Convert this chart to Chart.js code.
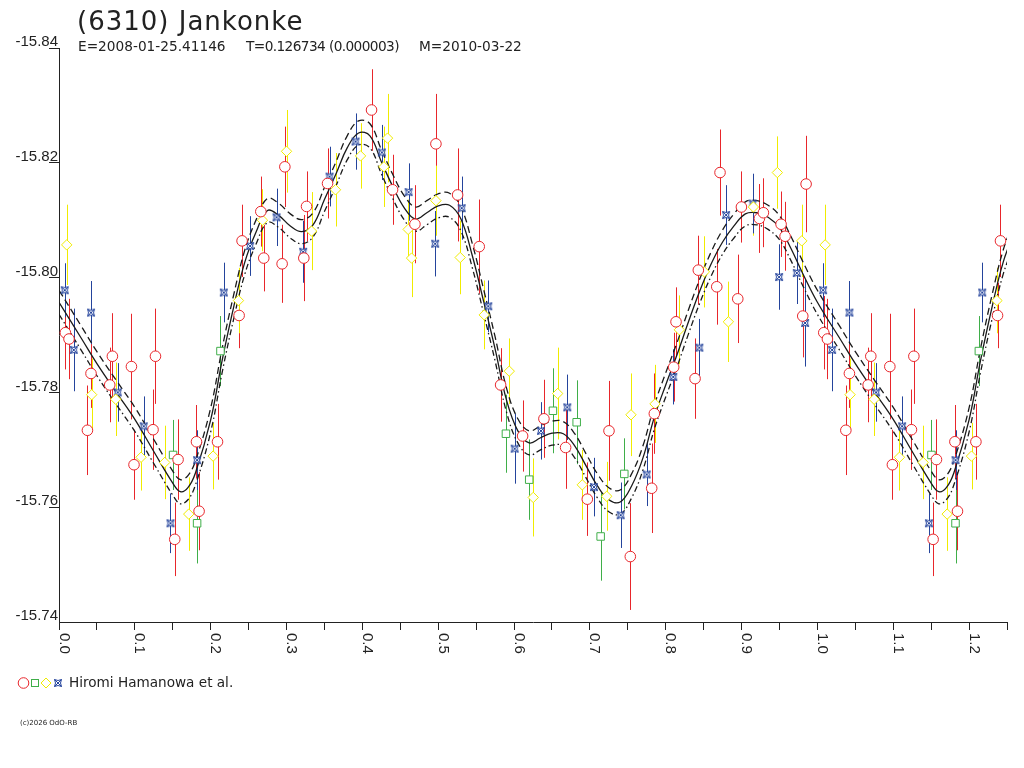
<!DOCTYPE html>
<html>
<head>
<meta charset="utf-8">
<title>(6310) Jankonke</title>
<script src="https://cdn.jsdelivr.net/npm/chart.js@4.4.1/dist/chart.umd.min.js"></script>
<style>
  body { margin: 0; background: #fff; }
  #wrap { position: relative; width: 1024px; height: 768px; overflow: hidden; }
  #chart { position: absolute; left: 0; top: 0; }
  .txt { position: absolute; white-space: pre; color: #222; font-family: "DejaVu Sans", sans-serif; }
</style>
</head>
<body>
<div id="wrap">
  <canvas id="chart" width="1024" height="768"></canvas>
  <div class="txt" style="left:77px; top:8px; font-size:26px; line-height:26px; letter-spacing:1px;">(6310) Jankonke</div>
  <div class="txt" style="left:78px; top:40px; font-size:13.7px; line-height:13.7px;">E=2008-01-25.41146</div>
  <div class="txt" style="left:246px; top:40px; font-size:13.7px; line-height:13.7px; letter-spacing:-0.6px;">T=0.126734 (0.000003)</div>
  <div class="txt" style="left:419px; top:40px; font-size:13.7px; line-height:13.7px;">M=2010-03-22</div>
  <svg style="position:absolute; left:16px; top:676px;" width="50" height="14" viewBox="0 0 50 14">
    <circle cx="7.5" cy="7" r="5.3" fill="#fff" stroke="#e8262b" stroke-width="1"/>
    <rect x="15.5" y="3.5" width="7" height="7" fill="#fff" stroke="#3fae49" stroke-width="1"/>
    <polygon points="30,2 35,7 30,12 25,7" fill="#fff" stroke="#f0ec00" stroke-width="1"/>
    <path d="M38.5 3.5 Q42 5.5 45.5 3.5 Q43.5 7 45.5 10.5 Q42 8.5 38.5 10.5 Q40.5 7 38.5 3.5 Z M38.5 3.5 L45.5 10.5 M45.5 3.5 L38.5 10.5" fill="#fff" stroke="#24449c" stroke-width="1"/>
  </svg>
  <div class="txt" style="left:69px; top:676px; font-size:13.6px; line-height:13.6px;">Hiromi Hamanowa et al.</div>
  <div class="txt" style="left:20px; top:720px; font-size:7px; line-height:7px;">(c)2026 OdO-RB</div>
</div>
<script>
document.addEventListener("DOMContentLoaded", () => {

const axisColor = "#222"
const red = "#e8262b", green = "#3fae49", yellow = "#f0ec00", blue = "#24449c"

// axis ticks
const xTickValues = [0,0.05,0.1,0.15,0.2,0.25,0.3,0.35,0.4,0.45,0.5,0.55,0.6,0.65,0.7,0.75,0.8,0.85,0.9,0.95,1.0,1.05,1.1,1.15,1.2,1.25]
const xTickLabels = ["0.0","0.1","0.2","0.3","0.4","0.5","0.6","0.7","0.8","0.9","1.0","1.1","1.2"]
const yTickValues = [-15.84,-15.82,-15.80,-15.78,-15.76,-15.74]
const xMax = 1.25

const redPhase = [0.0084,0.0132,0.0375,0.0422,0.0669,0.0704,0.0955,0.0989,0.1240,0.1272,0.1526,0.1570,0.1813,0.1847,0.2090,0.2375,0.2414,0.2661,0.2700,0.2942,0.2978,0.3228,0.3264,0.3541,0.4121,0.4398,0.4693,0.4970,0.5256,0.5541,0.5823,0.6113,0.6394,0.6680,0.6966,0.7252,0.7533,0.7815,0.7850,0.8105,0.8136,0.8387,0.8430,0.8673,0.8716,0.8950,0.8998,0.9235,0.9288,0.9521,0.9574,0.9807,0.9851]
const redMag = [-15.7904,-15.7893,-15.7734,-15.7833,-15.7813,-15.7863,-15.7845,-15.7674,-15.7735,-15.7863,-15.7544,-15.7683,-15.7714,-15.7593,-15.7714,-15.7934,-15.8064,-15.8115,-15.8034,-15.8024,-15.8193,-15.8034,-15.8124,-15.8164,-15.8292,-15.8153,-15.8093,-15.8233,-15.8144,-15.8054,-15.7813,-15.7724,-15.7754,-15.7704,-15.7614,-15.7733,-15.7514,-15.7633,-15.7763,-15.7844,-15.7923,-15.7824,-15.8013,-15.7984,-15.8183,-15.7963,-15.8123,-15.8103,-15.8113,-15.8093,-15.8072,-15.7933,-15.8163]
const redErr = [0.0064,0.0070,0.0078,0.0060,0.0065,0.0075,0.0092,0.0061,0.0070,0.0083,0.0064,0.0070,0.0064,0.0068,0.0066,0.0057,0.0063,0.0061,0.0058,0.0068,0.0070,0.0075,0.0061,0.0061,0.0071,0.0061,0.0068,0.0087,0.0081,0.0082,0.0064,0.0062,0.0068,0.0072,0.0064,0.0087,0.0093,0.0078,0.0070,0.0060,0.0060,0.0070,0.0060,0.0066,0.0075,0.0077,0.0062,0.0060,0.0060,0.0057,0.0060,0.0072,0.0084]

const greenPhase = [0.1504,0.1821,0.2129,0.5893,0.6200,0.6513,0.6826,0.7142,0.7454]
const greenMag = [-15.7691,-15.7572,-15.7872,-15.7728,-15.7648,-15.7768,-15.7748,-15.7549,-15.7658]
const greenErr = [0.0061,0.0070,0.0061,0.0068,0.0070,0.0074,0.0073,0.0077,0.0062]

const yellowPhase = [0.0102,0.0431,0.0748,0.1082,0.1394,0.1711,0.2032,0.2367,0.2683,0.3000,0.3330,0.3646,0.3976,0.4284,0.4332,0.4604,0.4649,0.4970,0.5290,0.5607,0.5937,0.6253,0.6575,0.6900,0.7222,0.7542,0.7859,0.8180,0.8510,0.8826,0.9156,0.9472,0.9794]
const yellowMag = [-15.8057,-15.7796,-15.7788,-15.7687,-15.7678,-15.7588,-15.7689,-15.7960,-15.8100,-15.8220,-15.8081,-15.8153,-15.8212,-15.8193,-15.8243,-15.8084,-15.8034,-15.8134,-15.8035,-15.7935,-15.7837,-15.7617,-15.7798,-15.7639,-15.7619,-15.7761,-15.7780,-15.7909,-15.8010,-15.7923,-15.8123,-15.8183,-15.8064]
const yellowErr = [0.0070,0.0063,0.0064,0.0058,0.0064,0.0064,0.0058,0.0057,0.0054,0.0072,0.0068,0.0064,0.0057,0.0070,0.0077,0.0052,0.0068,0.0061,0.0064,0.0060,0.0057,0.0068,0.0080,0.0061,0.0060,0.0072,0.0068,0.0060,0.0062,0.0070,0.0050,0.0063,0.0063]

const bluePhase = [0.0075,0.0194,0.0422,0.0774,0.1117,0.1470,0.1821,0.2173,0.2520,0.2868,0.3219,0.3567,0.3910,0.4257,0.4610,0.4960,0.5309,0.5660,0.6008,0.6355,0.6702,0.7054,0.7406,0.7749,0.8100,0.8443,0.8796,0.9147,0.9495,0.9728,0.9838]
const blueMag = [-15.7978,-15.7874,-15.7939,-15.7800,-15.7741,-15.7572,-15.7682,-15.7974,-15.8055,-15.8105,-15.8045,-15.8176,-15.8237,-15.8218,-15.8149,-15.8059,-15.8121,-15.7950,-15.7702,-15.7733,-15.7774,-15.7635,-15.7586,-15.7657,-15.7827,-15.7878,-15.8109,-15.8129,-15.8001,-15.8008,-15.7921]
const blueErr = [0.0047,0.0072,0.0055,0.0051,0.0052,0.0052,0.0052,0.0052,0.0052,0.0050,0.0054,0.0052,0.0049,0.0048,0.0050,0.0057,0.0055,0.0045,0.0061,0.0050,0.0057,0.0051,0.0057,0.0055,0.0048,0.0050,0.0052,0.0052,0.0057,0.0054,0.0076]

// model curve and its two bounds
const modelPhase = [0,0.03,0.05,0.075,0.1,0.125,0.15,0.16,0.17,0.18,0.2,0.215,0.23,0.245,0.26,0.275,0.29,0.305,0.32,0.335,0.35,0.365,0.38,0.395,0.41,0.425,0.44,0.455,0.47,0.485,0.5,0.515,0.53,0.545,0.56,0.575,0.59,0.605,0.62,0.635,0.65,0.665,0.68,0.695,0.71,0.725,0.74,0.755,0.77,0.785,0.8,0.815,0.83,0.845,0.86,0.875,0.89,0.905,0.92,0.935,0.95,0.965,0.98]
const modelMag = [-15.7957,-15.7893,-15.7850,-15.7801,-15.7753,-15.7697,-15.7642,-15.7627,-15.7634,-15.7660,
-15.7752,-15.7855,-15.7947,-15.8027,-15.8080,-15.8117,-15.8108,-15.8090,-15.8080,-15.8092,
-15.8136,-15.8180,-15.8226,-15.8252,-15.8247,-15.8202,-15.8159,-15.8122,-15.8102,-15.8113,
-15.8125,-15.8126,-15.8102,-15.8038,-15.7958,-15.7876,-15.7787,-15.7733,-15.7712,-15.7721,
-15.7729,-15.7728,-15.7707,-15.7672,-15.7637,-15.7613,-15.7609,-15.7637,-15.7686,-15.7757,
-15.7813,-15.7866,-15.7923,-15.7977,-15.8024,-15.8062,-15.8090,-15.8111,-15.8113,-15.8105,
-15.8087,-15.8051,-15.8009]
const modelUpper = [-15.7978,-15.7914,-15.7871,-15.7822,-15.7774,-15.7718,-15.7663,-15.7648,-15.7655,-15.7681,
-15.7773,-15.7876,-15.7968,-15.8048,-15.8101,-15.8138,-15.8129,-15.8111,-15.8101,-15.8113,
-15.8157,-15.8201,-15.8247,-15.8273,-15.8268,-15.8223,-15.8180,-15.8143,-15.8123,-15.8134,
-15.8146,-15.8147,-15.8123,-15.8059,-15.7979,-15.7897,-15.7808,-15.7754,-15.7733,-15.7742,
-15.7750,-15.7749,-15.7728,-15.7693,-15.7658,-15.7634,-15.7630,-15.7658,-15.7707,-15.7778,
-15.7834,-15.7887,-15.7944,-15.7998,-15.8045,-15.8083,-15.8111,-15.8132,-15.8134,-15.8126,
-15.8108,-15.8072,-15.8030]
const modelLower = [-15.7936,-15.7872,-15.7829,-15.7780,-15.7732,-15.7676,-15.7621,-15.7606,-15.7613,-15.7639,
-15.7731,-15.7834,-15.7926,-15.8006,-15.8059,-15.8096,-15.8087,-15.8069,-15.8059,-15.8071,
-15.8115,-15.8159,-15.8205,-15.8231,-15.8226,-15.8181,-15.8138,-15.8101,-15.8081,-15.8092,
-15.8104,-15.8105,-15.8081,-15.8017,-15.7937,-15.7855,-15.7766,-15.7712,-15.7691,-15.7700,
-15.7708,-15.7707,-15.7686,-15.7651,-15.7616,-15.7592,-15.7588,-15.7616,-15.7665,-15.7736,
-15.7792,-15.7845,-15.7902,-15.7956,-15.8003,-15.8041,-15.8069,-15.8090,-15.8092,-15.8084,
-15.8066,-15.8030,-15.7988]

// phase plot: points before phase 0.25 are shown a second time after 1.0
function fold(phase, mag, err) {
  const pts = phase.map((p, i) => ({x: p, y: mag[i], err: err[i]}))
  phase.forEach((p, i) => { if (p + 1 <= xMax) pts.push({x: p + 1, y: mag[i], err: err[i]}) })
  return pts
}
function foldLine(phase, mag) {
  const pts = phase.map((p, i) => ({x: p, y: mag[i]}))
  phase.forEach((p, i) => { if (p + 1 <= xMax + 0.02) pts.push({x: p + 1, y: mag[i]}) })
  return pts
}

// blue marker: pinched box with a cross
function blueMark() {
  const c = document.createElement("canvas")
  c.width = 10; c.height = 10
  const g = c.getContext("2d")
  g.strokeStyle = blue; g.fillStyle = "#fff"; g.lineWidth = 1
  g.beginPath()
  g.moveTo(1.5, 1.5)
  g.quadraticCurveTo(5, 3.5, 8.5, 1.5)
  g.quadraticCurveTo(6.5, 5, 8.5, 8.5)
  g.quadraticCurveTo(5, 6.5, 1.5, 8.5)
  g.quadraticCurveTo(3.5, 5, 1.5, 1.5)
  g.closePath()
  g.fill(); g.stroke()
  g.beginPath()
  g.moveTo(1.5, 1.5); g.lineTo(8.5, 8.5)
  g.moveTo(8.5, 1.5); g.lineTo(1.5, 8.5)
  g.stroke()
  return c
}

const errorBars = {
  id: "errorBars",
  beforeDatasetsDraw(chart) {
    const {ctx, chartArea, scales: {x, y}} = chart
    ctx.save()
    ctx.beginPath()
    ctx.rect(chartArea.left, chartArea.top, chartArea.right - chartArea.left, chartArea.bottom - chartArea.top)
    ctx.clip()
    ctx.lineWidth = 1
    chart.data.datasets.forEach(ds => {
      if (!ds.errorBars) return
      ctx.strokeStyle = ds.borderColor
      ds.data.forEach(p => {
        const px = Math.round(x.getPixelForValue(p.x)) + 0.5
        ctx.beginPath()
        ctx.moveTo(px, y.getPixelForValue(p.y - p.err))
        ctx.lineTo(px, y.getPixelForValue(p.y + p.err))
        ctx.stroke()
      })
    })
    ctx.restore()
  }
}

// x labels read top to bottom
const xLabels = {
  id: "xLabels",
  afterDraw(chart) {
    const {ctx, chartArea, scales: {x}} = chart
    ctx.save()
    ctx.fillStyle = axisColor
    ctx.font = '15px "Liberation Sans", Arial, sans-serif'
    ctx.textAlign = "left"
    ctx.textBaseline = "alphabetic"
    xTickLabels.forEach(t => {
      const px = x.getPixelForValue(Number(t))
      ctx.save()
      ctx.translate(px + 0.5, chartArea.bottom + 11)
      ctx.rotate(Math.PI / 2)
      ctx.fillText(t, 0, 0)
      ctx.restore()
    })
    ctx.restore()
  }
}

function pointSet(label, data, color, style, radius, order) {
  return {
    label: label, data: data, errorBars: true,
    borderColor: color, backgroundColor: "#fff",
    pointStyle: style, pointRadius: radius, pointBorderWidth: 1,
    showLine: false, order: order
  }
}
function lineSet(label, data, dash) {
  return {
    label: label, data: data,
    borderColor: "#1a1a1a", borderWidth: 1.3, borderDash: dash,
    pointRadius: 0, showLine: true, tension: 0.4, order: 10
  }
}

new Chart(document.getElementById("chart"), {
  type: "scatter",
  data: {
    datasets: [
      pointSet("red", fold(redPhase, redMag, redErr), red, "circle", 5.3, 1),
      pointSet("green", fold(greenPhase, greenMag, greenErr), green, "rect", 5.3, 2),
      pointSet("yellow", fold(yellowPhase, yellowMag, yellowErr), yellow, "rectRot", 5.2, 3),
      pointSet("blue", fold(bluePhase, blueMag, blueErr), blue, blueMark(), 4, 4),
      lineSet("model", foldLine(modelPhase, modelMag), []),
      lineSet("upper", foldLine(modelPhase, modelUpper), [7, 4]),
      lineSet("lower", foldLine(modelPhase, modelLower), [6, 3, 1.5, 3])
    ]
  },
  options: {
    responsive: false,
    animation: false,
    events: [],
    layout: {autoPadding: false, padding: {top: 48, right: 17, bottom: 0, left: 0}},
    plugins: {legend: {display: false}, tooltip: {enabled: false}, title: {display: false}},
    scales: {
      x: {
        type: "linear", min: 0, max: xMax,
        afterBuildTicks: s => { s.ticks = xTickValues.map(v => ({value: v})) },
        afterFit: s => { s.height = 146 },
        grid: {display: true, drawOnChartArea: false, drawTicks: true, tickLength: 8, color: axisColor, lineWidth: 1},
        border: {display: true, color: axisColor, width: 1},
        ticks: {display: false}
      },
      y: {
        type: "linear", reverse: true, min: -15.84, max: -15.74,
        afterBuildTicks: s => { s.ticks = yTickValues.map(v => ({value: v})) },
        afterFit: s => { s.width = 59 },
        grid: {
          display: true, drawOnChartArea: false, drawTicks: true, tickLength: 10, lineWidth: 1,
          color: c => (c.tick && c.tick.value === -15.74) ? "rgba(0,0,0,0)" : axisColor
        },
        border: {display: true, color: axisColor, width: 1},
        ticks: {
          padding: -9, labelOffset: -6, color: axisColor,
          font: {family: '"Liberation Sans", Arial, sans-serif', size: 15},
          callback: v => v.toFixed(2)
        }
      }
    }
  },
  plugins: [errorBars, xLabels]
})

})
</script>
</body>
</html>
